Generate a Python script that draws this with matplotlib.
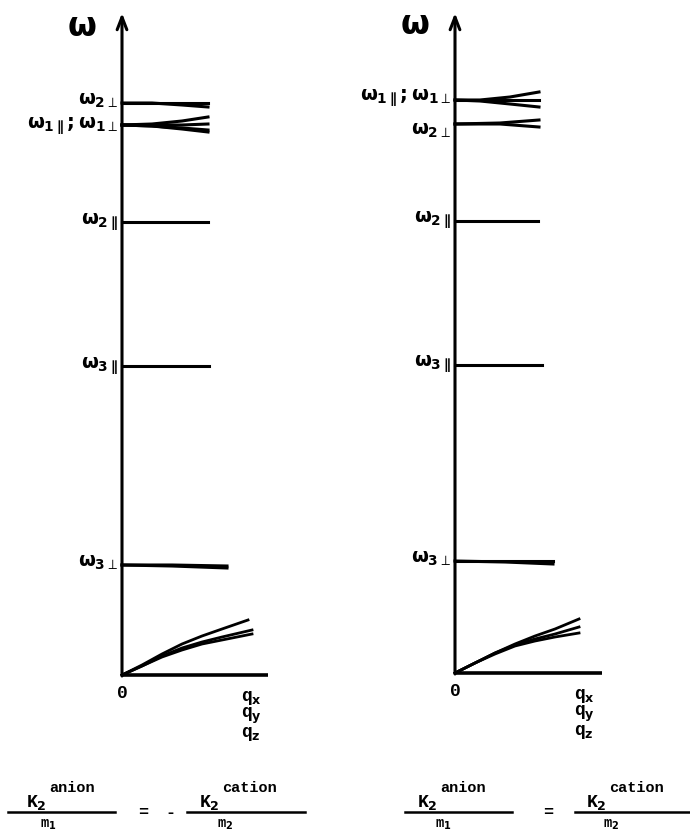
import matplotlib
matplotlib.use('Agg')
import matplotlib.pyplot as plt
from matplotlib.lines import Line2D

plt.rcParams['font.family'] = 'DejaVu Sans'
plt.rcParams['mathtext.fontset'] = 'custom'
plt.rcParams['mathtext.rm'] = 'DejaVu Sans:bold'
plt.rcParams['mathtext.it'] = 'DejaVu Sans:bold'
plt.rcParams['mathtext.bf'] = 'DejaVu Sans:bold'

W, H = 690, 836

# level labels (top to bottom as drawn)
left_labels = [r'$\omega_{2\perp}$', r'$\omega_{1\parallel};\omega_{1\perp}$',
               r'$\omega_{2\parallel}$', r'$\omega_{3\parallel}$', r'$\omega_{3\perp}$']
left_label_w = [5.75, 5.49, 4.53, 3.09, 1.13]
right_labels = [r'$\omega_{1\parallel};\omega_{1\perp}$', r'$\omega_{2\perp}$',
                r'$\omega_{2\parallel}$', r'$\omega_{3\parallel}$', r'$\omega_{3\perp}$']
right_label_w = [5.75, 5.43, 4.53, 3.09, 1.15]
q_labels = [r'q$_x$', r'q$_y$', r'q$_z$']

# left panel branches: (q values, omega values)
left_optic = [
    ([0, 0.3, 0.6, 0.86], [5.72, 5.72, 5.72, 5.72]),
    ([0, 0.3, 0.6, 0.86], [5.72, 5.72, 5.70, 5.68]),
    ([0, 0.3, 0.6, 0.86], [5.50, 5.51, 5.54, 5.58]),
    ([0, 0.3, 0.6, 0.86], [5.50, 5.50, 5.50, 5.51]),
    ([0, 0.3, 0.6, 0.86], [5.50, 5.49, 5.47, 5.45]),
    ([0, 0.3, 0.6, 0.86], [5.50, 5.49, 5.46, 5.43]),
    ([0, 0.86], [4.53, 4.53]),
    ([0, 0.87], [3.09, 3.09]),
    ([0, 0.5, 1.05], [1.10, 1.10, 1.09]),
    ([0, 0.5, 1.05], [1.10, 1.09, 1.07]),
]
left_acoustic = [
    ([0, 0.2, 0.4, 0.6, 0.8, 1.0, 1.26], [0, 0.10, 0.21, 0.31, 0.39, 0.46, 0.55]),
    ([0, 0.2, 0.4, 0.6, 0.8, 1.0, 1.30], [0, 0.09, 0.19, 0.27, 0.33, 0.38, 0.45]),
    ([0, 0.2, 0.4, 0.6, 0.8, 1.0, 1.30], [0, 0.09, 0.18, 0.25, 0.31, 0.35, 0.41]),
]

# right panel branches
right_optic = [
    ([0, 0.25, 0.55, 0.84], [5.73, 5.73, 5.76, 5.81]),
    ([0, 0.25, 0.55, 0.84], [5.73, 5.73, 5.73, 5.73]),
    ([0, 0.25, 0.55, 0.84], [5.73, 5.72, 5.69, 5.66]),
    ([0, 0.45, 0.84], [5.49, 5.50, 5.53]),
    ([0, 0.45, 0.84], [5.49, 5.49, 5.46]),
    ([0, 0.83], [4.52, 4.52]),
    ([0, 0.87], [3.08, 3.08]),
    ([0, 0.5, 0.98], [1.12, 1.12, 1.12]),
    ([0, 0.5, 0.98], [1.12, 1.11, 1.09]),
]
right_acoustic = [
    ([0, 0.2, 0.4, 0.6, 0.8, 1.0, 1.24], [0, 0.10, 0.20, 0.29, 0.37, 0.44, 0.54]),
    ([0, 0.2, 0.4, 0.6, 0.8, 1.0, 1.24], [0, 0.10, 0.20, 0.28, 0.34, 0.39, 0.46]),
    ([0, 0.2, 0.4, 0.6, 0.8, 1.0, 1.24], [0, 0.10, 0.19, 0.27, 0.32, 0.36, 0.40]),
]

fig = plt.figure(figsize=(W / 100, H / 100), dpi=100)


def make_axes(x0, y0, top, xend):
    # axes in pixel units: 100 px per data unit
    ax = fig.add_axes([x0 / W, 1 - y0 / H, 150 / W, (y0 - top) / H])
    ax.set_xlim(0, 1.5)
    ax.set_ylim(0, (y0 - top) / 100)
    ax.axis('off')
    ax.annotate('', xy=(0, (y0 - top) / 100), xytext=(0, -0.01),
                arrowprops=dict(arrowstyle='->,head_length=0.9,head_width=0.35',
                                lw=2.2, color='black', shrinkA=0, shrinkB=0),
                annotation_clip=False)
    ax.plot([0, xend], [0, 0], color='black', lw=2.6, clip_on=False,
            solid_capstyle='butt')
    return ax


def draw_panel(ax, optic, acoustic, labels, label_w):
    for q, w in optic:
        ax.plot(q, w, color='black', lw=2.2, clip_on=False)
    for q, w in acoustic:
        ax.plot(q, w, color='black', lw=2.0, clip_on=False)
    for lab, w in zip(labels, label_w):
        ax.text(-0.04, w, lab, ha='right', va='center', fontsize=14)
    ax.text(-0.40, 6.48, 'ω', ha='center', va='center', fontsize=24,
            fontweight='bold')
    ax.text(0, -0.18, '0', ha='center', va='center', fontsize=13,
            family='Liberation Mono', fontweight='bold')
    for i, t in enumerate(q_labels):
        ax.text(1.19, -0.23 - 0.18 * i, t, ha='left', va='center',
                fontsize=13, family='Liberation Mono', fontweight='bold')


axL = make_axes(122, 675, 13, 1.46)
draw_panel(axL, left_optic, left_acoustic, left_labels, left_label_w)
axR = make_axes(455, 673, 13, 1.47)
draw_panel(axR, right_optic, right_acoustic, right_labels, right_label_w)


def ftext(x, y, s, size=12, ha='center'):
    fig.text(x / W, 1 - y / H, s, fontsize=size, family='Liberation Mono',
             fontweight='bold', ha=ha, va='center')


def fraction(x1, x2, kx, sup, mx, sub):
    fig.add_artist(Line2D([x1 / W, x2 / W], [1 - 812 / H, 1 - 812 / H],
                          color='black', lw=1.8))
    ftext(kx - 6, 802, r'K$_2$', size=13, ha='left')
    ftext(kx + 17, 788, sup, size=11, ha='left')
    ftext(mx - 5, 825, r'm$_{%s}$' % sub, size=10, ha='left')


fraction(8, 115, 32, 'anion', 45, '1')
ftext(143, 812, '=')
ftext(170, 812, '-')
fraction(187, 305, 205, 'cation', 222, '2')

fraction(405, 512, 423, 'anion', 440, '1')
ftext(548, 812, '=')
fraction(575, 690, 592, 'cation', 608, '2')

fig.savefig('out.png', dpi=100, facecolor='white')
